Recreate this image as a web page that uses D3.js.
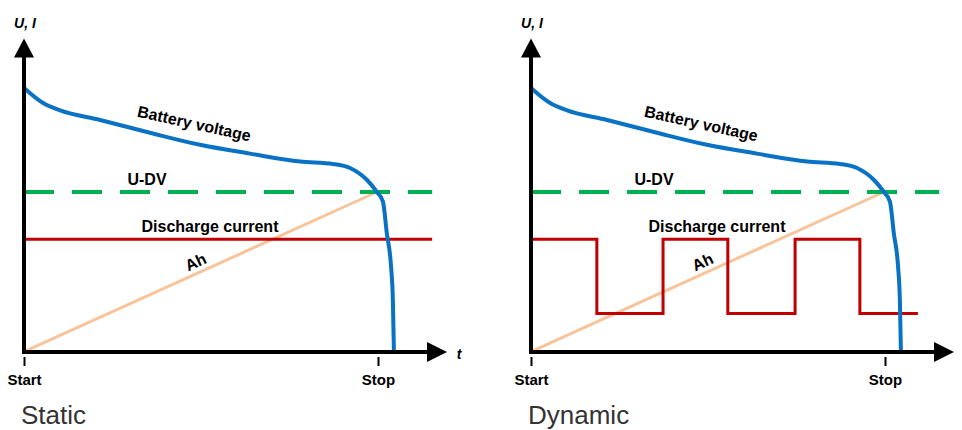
<!DOCTYPE html>
<html>
<head>
<meta charset="utf-8">
<script src="https://d3js.org/d3.v7.min.js"></script>
<style>
  body { margin: 0; background: #fff; }
  text { font-family: "Liberation Sans", Arial, sans-serif; }
</style>
</head>
<body>
<div id="chart"></div>
<script>

// time axis: Start = 0, Stop = 10
var voltageT = [0, 0.54, 1.02, 2.15, 3.56, 4.97, 6.38, 7.80, 8.73, 9.21, 9.69, 9.97, 10.14, 10.25, 10.37, 10.42, 10.45];
var voltageU = [16.5, 15.56, 15.1, 14.5, 13.7, 12.95, 12.4, 11.9, 11.75, 11.5, 10.75, 10.0, 9.4, 7.4, 5.3, 3.25, 0];

var udvLevel = 10;
var lineEnd = 11.53;

var staticT = [0, 11.53];
var staticI = [7.05, 7.05];

var dynamicT = [0, 1.86, 3.73, 5.56, 7.46, 9.29, 10.93];
var dynamicI = [7.05, 2.4, 7.05, 2.4, 7.05, 2.4, 2.4];

var ahT = [0.08, 9.97];
var ahV = [0.1, 10.0];

var tickValues = [0, 10];
var tickLabels = ["Start", "Stop"];
var panelTitles = ["Static", "Dynamic"];

var width = 962, height = 430;

var x = d3.scaleLinear().domain([0, 10]).range([24, 378]);
var y = d3.scaleLinear().domain([0, 10]).range([352, 192]);

var svg = d3.select("#chart").append("svg")
  .attr("width", width)
  .attr("height", height);

var line = d3.line()
  .x(function(d) { return x(d[0]); })
  .y(function(d) { return y(d[1]); });

var voltage = voltageT.map(function(t, i) { return [t, voltageU[i]]; });

function drawPanel(offset, idx) {
  var g = svg.append("g").attr("transform", "translate(" + offset + ",0)");

  // Ah line
  g.append("path")
    .datum(ahT.map(function(t, i) { return [t, ahV[i]]; }))
    .attr("d", line)
    .attr("fill", "none")
    .attr("stroke", "#f8c49b")
    .attr("stroke-width", 3);

  // U-DV
  g.append("path")
    .datum([[0, udvLevel], [lineEnd, udvLevel]])
    .attr("d", line)
    .attr("fill", "none")
    .attr("stroke", "#00b050")
    .attr("stroke-width", 4)
    .attr("stroke-dasharray", "30,18");

  // discharge current
  var cur = idx === 0
    ? staticT.map(function(t, i) { return [t, staticI[i]]; })
    : dynamicT.map(function(t, i) { return [t, dynamicI[i]]; });
  g.append("path")
    .datum(cur)
    .attr("d", line.curve(idx === 0 ? d3.curveLinear : d3.curveStepAfter))
    .attr("fill", "none")
    .attr("stroke", "#c00000")
    .attr("stroke-width", 3);
  line.curve(d3.curveLinear);

  // battery voltage
  g.append("path")
    .datum(voltage)
    .attr("d", d3.line()
      .x(function(d) { return x(d[0]); })
      .y(function(d) { return y(d[1]); })
      .curve(d3.curveMonotoneX))
    .attr("fill", "none")
    .attr("stroke", "#0a72c4")
    .attr("stroke-width", 4);

  // axes with arrows
  var x0 = x(0), y0 = y(0);
  var xTip = x(11.95), yTip = y(19.6);
  g.append("line")
    .attr("x1", x0).attr("y1", y0 + 2)
    .attr("x2", x0).attr("y2", yTip + 15)
    .attr("stroke", "#000").attr("stroke-width", 4);
  g.append("line")
    .attr("x1", x0 - 2).attr("y1", y0)
    .attr("x2", xTip - 15).attr("y2", y0)
    .attr("stroke", "#000").attr("stroke-width", 4);
  g.append("path")
    .attr("d", "M" + (x0 - 10) + "," + (yTip + 19) + "L" + x0 + "," + yTip + "L" + (x0 + 10) + "," + (yTip + 19) + "Z")
    .attr("fill", "#000");
  g.append("path")
    .attr("d", "M" + (xTip - 20) + "," + (y0 - 10) + "L" + xTip + "," + y0 + "L" + (xTip - 20) + "," + (y0 + 10) + "Z")
    .attr("fill", "#000");

  g.append("text")
    .attr("x", x0 + 1).attr("y", 28)
    .attr("text-anchor", "middle")
    .style("font-size", "14px").style("font-weight", "bold").style("font-style", "italic")
    .text("U, I");
  if (idx === 0) {
    g.append("text")
      .attr("x", xTip + 12).attr("y", 359)
      .attr("text-anchor", "middle")
      .style("font-size", "14px").style("font-weight", "bold").style("font-style", "italic")
      .text("t");
  }

  // start / stop ticks
  var ax = g.append("g")
    .attr("transform", "translate(0,357)")
    .call(d3.axisBottom(x)
      .tickValues(tickValues)
      .tickSize(9)
      .tickPadding(8)
      .tickFormat(function(d, i) { return tickLabels[i]; }));
  ax.select(".domain").remove();
  ax.selectAll(".tick line").attr("stroke", "#000").attr("stroke-width", 2);
  ax.selectAll(".tick text")
    .attr("fill", "#000")
    .style("font-family", "'Liberation Sans', Arial, sans-serif")
    .style("font-size", "15px").style("font-weight", "bold");

  // labels
  g.append("text")
    .attr("transform", "translate(193,129) rotate(12.5)")
    .attr("text-anchor", "middle")
    .style("font-size", "16px").style("font-weight", "bold")
    .text("Battery voltage");
  g.append("text")
    .attr("x", 147).attr("y", 185)
    .attr("text-anchor", "middle")
    .style("font-size", "16px").style("font-weight", "bold")
    .text("U-DV");
  g.append("text")
    .attr("x", 210).attr("y", 232)
    .attr("text-anchor", "middle")
    .style("font-size", "16px").style("font-weight", "bold")
    .text("Discharge current");
  g.append("text")
    .attr("transform", "translate(198,267) rotate(-24.6)")
    .attr("text-anchor", "middle")
    .style("font-size", "16px").style("font-weight", "bold")
    .text("Ah");

  g.append("text")
    .attr("x", x0 - 3).attr("y", 424)
    .style("font-size", "26px").attr("fill", "#333")
    .text(panelTitles[idx]);
}

drawPanel(0, 0);
drawPanel(507, 1);

</script>
</body>
</html>
